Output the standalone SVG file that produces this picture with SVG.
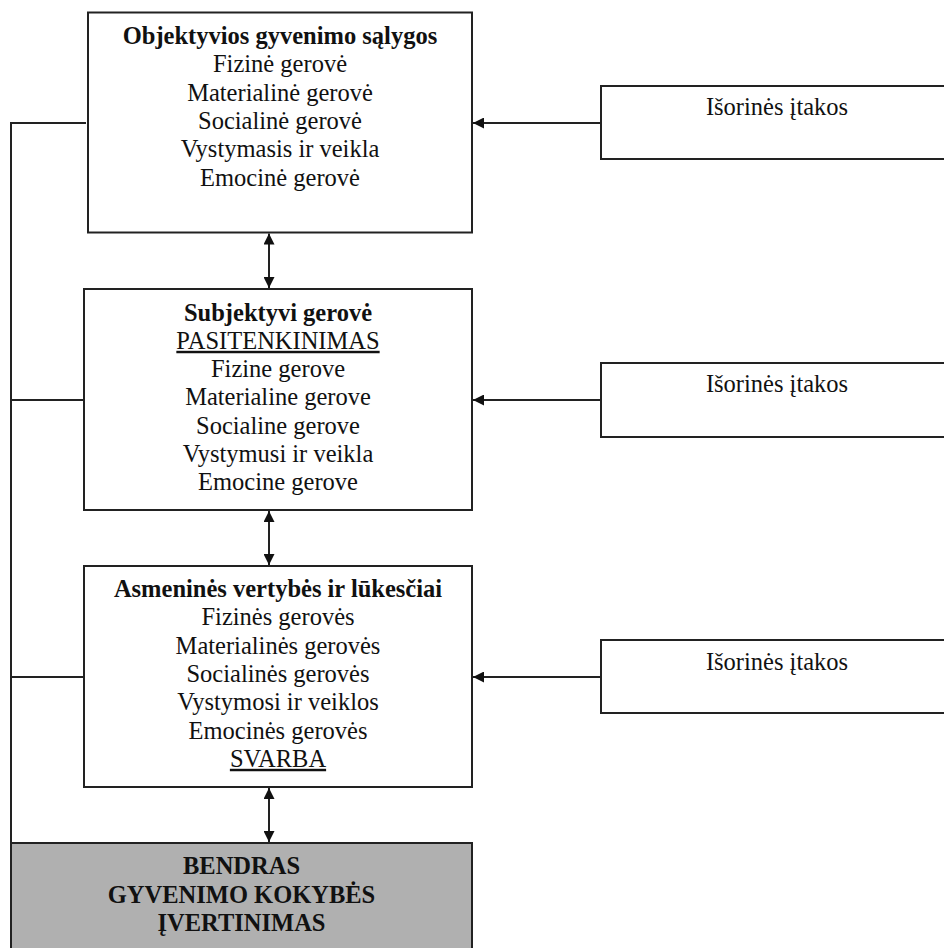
<svg xmlns="http://www.w3.org/2000/svg" width="944" height="948" viewBox="0 0 944 948">
<style>
.box{fill:#fff;stroke:#222;stroke-width:2}
.grey{fill:#b0b0b0;stroke:#222;stroke-width:2}
.ln{fill:none;stroke:#222;stroke-width:2}
text{font-family:"Liberation Serif","Times New Roman",serif;font-size:24.5px;fill:#111;text-anchor:middle}
.b{font-weight:bold}
.u{text-decoration:underline}
</style>
<defs>
<marker id="ah" viewBox="0 0 11 11" refX="11" refY="5.5" markerWidth="11" markerHeight="11" markerUnits="userSpaceOnUse" orient="auto-start-reverse">
<path d="M0,0 L11,5.5 L0,11 z" fill="#111"/>
</marker>
</defs>
<rect width="944" height="948" fill="#fff"/>
<g id="connectors">
<path class="ln" d="M86,123 H11 V843"/>
<path class="ln" d="M83,400 H11"/>
<path class="ln" d="M83,677 H11"/>
<line class="ln" x1="269" y1="233.5" x2="269" y2="288" marker-start="url(#ah)" marker-end="url(#ah)"/>
<line class="ln" x1="269" y1="511" x2="269" y2="565" marker-start="url(#ah)" marker-end="url(#ah)"/>
<line class="ln" x1="269" y1="788" x2="269" y2="842" marker-start="url(#ah)" marker-end="url(#ah)"/>
<line class="ln" x1="600" y1="123" x2="473" y2="123" marker-end="url(#ah)"/>
<line class="ln" x1="600" y1="400" x2="473" y2="400" marker-end="url(#ah)"/>
<line class="ln" x1="600" y1="677" x2="473" y2="677" marker-end="url(#ah)"/>
</g>
<g id="objektyvios">
<rect class="box" x="88" y="12.5" width="384" height="220"/>
<text x="280" y="44" class="b">Objektyvios gyvenimo sąlygos</text>
<text x="280" y="72.3">Fizinė gerovė</text>
<text x="280" y="100.6">Materialinė gerovė</text>
<text x="280" y="128.9">Socialinė gerovė</text>
<text x="280" y="157.2">Vystymasis ir veikla</text>
<text x="280" y="185.5">Emocinė gerovė</text>
</g>
<g id="subjektyvi">
<rect class="box" x="84" y="289" width="388" height="221"/>
<text x="278" y="320.5" class="b">Subjektyvi gerovė</text>
<text x="278" y="348.8" class="u">PASITENKINIMAS</text>
<text x="278" y="377.1">Fizine gerove</text>
<text x="278" y="405.4">Materialine gerove</text>
<text x="278" y="433.7">Socialine gerove</text>
<text x="278" y="462">Vystymusi ir veikla</text>
<text x="278" y="490.3">Emocine gerove</text>
</g>
<g id="asmenines">
<rect class="box" x="84" y="566" width="388" height="221"/>
<text x="278" y="597" class="b">Asmeninės vertybės ir lūkesčiai</text>
<text x="278" y="625.3">Fizinės gerovės</text>
<text x="278" y="653.6">Materialinės gerovės</text>
<text x="278" y="681.9">Socialinės gerovės</text>
<text x="278" y="710.2">Vystymosi ir veiklos</text>
<text x="278" y="738.5">Emocinės gerovės</text>
<text x="278" y="766.8" class="u">SVARBA</text>
</g>
<g id="bendras">
<rect class="grey" x="11" y="843" width="461" height="120"/>
<text x="241.5" y="874" class="b">BENDRAS</text>
<text x="241.5" y="902.5" class="b">GYVENIMO KOKYBĖS</text>
<text x="241.5" y="931" class="b">ĮVERTINIMAS</text>
</g>
<g id="isorines1">
<rect class="box" x="601" y="86" width="360" height="73"/>
<text x="777" y="115">Išorinės įtakos</text>
</g>
<g id="isorines2">
<rect class="box" x="601" y="363" width="360" height="74"/>
<text x="777" y="392">Išorinės įtakos</text>
</g>
<g id="isorines3">
<rect class="box" x="601" y="640" width="360" height="73"/>
<text x="777" y="669.5">Išorinės įtakos</text>
</g>
</svg>
